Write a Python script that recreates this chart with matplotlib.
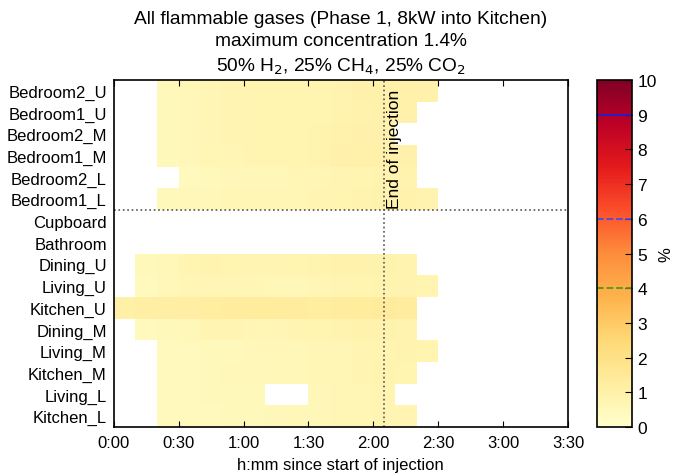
import numpy as np
import matplotlib
matplotlib.use('Agg')
import matplotlib.pyplot as plt

plt.rcParams['font.family'] = ['Liberation Sans', 'DejaVu Sans']

nan = np.nan

# 10-minute bins from 0:00 to 3:30, values in % (NaN = no reading)
time_edges = np.arange(0, 220, 10)
rooms = ['Bedroom2_U', 'Bedroom1_U', 'Bedroom2_M', 'Bedroom1_M', 'Bedroom2_L', 'Bedroom1_L',
         'Cupboard', 'Bathroom', 'Dining_U', 'Living_U', 'Kitchen_U', 'Dining_M',
         'Living_M', 'Kitchen_M', 'Living_L', 'Kitchen_L']

bedroom2_u = [nan, nan, 0.5, 0.6, 0.7, 0.75, 0.8, 0.8, 0.8, 0.8, 0.85, 0.95, 1.0, 1.0, 0.95, nan, nan, nan, nan, nan, nan]
bedroom1_u = [nan, nan, 0.5, 0.55, 0.65, 0.75, 0.75, 0.8, 0.8, 0.8, 0.85, 0.9, 0.95, 0.95, nan, nan, nan, nan, nan, nan, nan]
bedroom2_m = [nan, nan, 0.5, 0.6, 0.7, 0.75, 0.75, 0.8, 0.8, 0.85, 0.9, 0.95, 0.95, nan, nan, nan, nan, nan, nan, nan, nan]
bedroom1_m = [nan, nan, 0.5, 0.55, 0.65, 0.7, 0.75, 0.8, 0.8, 0.85, 0.95, 1.0, 1.0, 0.95, nan, nan, nan, nan, nan, nan, nan]
bedroom2_l = [nan, nan, nan, 0.4, 0.5, 0.55, 0.6, 0.6, 0.65, 0.7, 0.75, 0.8, 0.85, 0.85, nan, nan, nan, nan, nan, nan, nan]
bedroom1_l = [nan, nan, 0.5, 0.55, 0.6, 0.65, 0.65, 0.7, 0.7, 0.75, 0.8, 0.85, 0.9, 0.9, 0.85, nan, nan, nan, nan, nan, nan]
cupboard = [nan] * 21
bathroom = [nan] * 21
dining_u = [nan, 0.5, 0.6, 0.75, 0.85, 0.8, 0.75, 0.75, 0.8, 0.85, 0.9, 0.9, 0.9, 0.85, nan, nan, nan, nan, nan, nan, nan]
living_u = [nan, 0.45, 0.55, 0.65, 0.7, 0.7, 0.65, 0.6, 0.6, 0.7, 0.75, 0.8, 0.85, 0.85, 0.8, nan, nan, nan, nan, nan, nan]
kitchen_u = [1.05, 1.1, 1.15, 1.2, 1.25, 1.3, 1.35, 1.35, 1.3, 1.25, 1.3, 1.35, 1.4, 1.3, nan, nan, nan, nan, nan, nan, nan]
dining_m = [nan, 0.45, 0.5, 0.6, 0.75, 0.75, 0.7, 0.7, 0.75, 0.8, 0.85, 0.9, 0.9, 0.85, nan, nan, nan, nan, nan, nan, nan]
living_m = [nan, nan, 0.4, 0.45, 0.5, 0.5, 0.55, 0.6, 0.6, 0.65, 0.7, 0.75, 0.8, 0.85, 0.8, nan, nan, nan, nan, nan, nan]
kitchen_m = [nan, nan, 0.4, 0.45, 0.5, 0.55, 0.55, 0.6, 0.6, 0.65, 0.7, 0.75, 0.85, 0.8, nan, nan, nan, nan, nan, nan, nan]
living_l = [nan, nan, 0.4, 0.45, 0.5, 0.5, 0.5, nan, nan, 0.6, 0.65, 0.7, 0.75, nan, nan, nan, nan, nan, nan, nan, nan]
kitchen_l = [nan, nan, 0.4, 0.45, 0.45, 0.5, 0.5, 0.55, 0.6, 0.6, 0.65, 0.7, 0.75, 0.75, nan, nan, nan, nan, nan, nan, nan]

conc = np.array([bedroom2_u, bedroom1_u, bedroom2_m, bedroom1_m, bedroom2_l, bedroom1_l,
                 cupboard, bathroom, dining_u, living_u, kitchen_u, dining_m,
                 living_m, kitchen_m, living_l, kitchen_l])

end_injection = 125
tick_minutes = [0, 30, 60, 90, 120, 150, 180, 210]
tick_labels = ['0:00', '0:30', '1:00', '1:30', '2:00', '2:30', '3:00', '3:30']
limit_levels = [9, 6, 4]

fig = plt.figure(figsize=(6.73, 4.77), dpi=100)
ax = fig.add_axes([0.169, 0.1027, 0.675, 0.7275])
cax = fig.add_axes([0.887, 0.1027, 0.052, 0.7275])

y_edges = np.arange(len(rooms) + 1)
mesh = ax.pcolormesh(time_edges, y_edges, np.ma.masked_invalid(conc),
                     cmap='YlOrRd', vmin=0, vmax=10)
ax.set_xlim(0, 210)
ax.set_ylim(len(rooms), 0)

ax.set_xticks(tick_minutes)
ax.set_xticklabels(tick_labels, fontsize=12)
ax.set_yticks(np.arange(len(rooms)) + 0.5)
ax.set_yticklabels(rooms, fontsize=12)
ax.tick_params(axis='x', direction='in', top=True, length=4, pad=6)
ax.tick_params(axis='y', length=0, pad=5)
for spine in ax.spines.values():
    spine.set_linewidth(1.2)

ax.axhline(6, color='#555555', linestyle=':', linewidth=1.2)
ax.axvline(end_injection, color='#555555', linestyle=':', linewidth=1.2)
ax.text(end_injection + 1.5, 5.9, 'End of injection', rotation=90,
        ha='left', va='bottom', fontsize=12.5)

ax.set_xlabel('h:mm since start of injection', fontsize=12, labelpad=5)
ax.set_title('All flammable gases (Phase 1, 8kW into Kitchen)\n'
             'maximum concentration 1.4%\n'
             r'50% H$_2$, 25% CH$_4$, 25% CO$_2$', fontsize=13.8, pad=7,
             linespacing=1.4)

cb = fig.colorbar(mesh, cax=cax)
cb.set_ticks(range(0, 11))
cb.ax.tick_params(direction='in', length=5, labelsize=12.5, pad=4)
cb.outline.set_linewidth(1.2)
cb.set_label('%', fontsize=12, labelpad=1)
cax.axhline(limit_levels[0], color='#1f1fd0', linewidth=1.3)
cax.axhline(limit_levels[1], color='#4a4ae0', linewidth=1.3, linestyle='--')
cax.axhline(limit_levels[2], color='#4c9a1a', linewidth=1.3, linestyle='--')

fig.savefig('out.png', dpi=100)
